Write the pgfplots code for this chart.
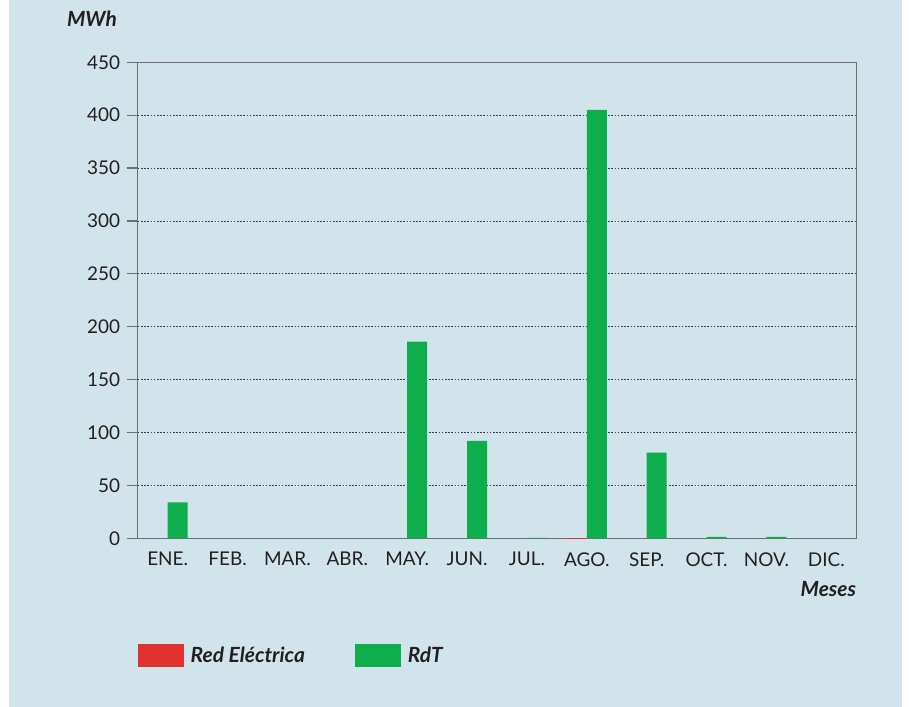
\documentclass[border=0pt]{standalone}
\usepackage{pgfplots}
\pgfplotsset{compat=1.18}
\usepackage{fontspec}
\setmainfont{Lato}
\definecolor{bgblue}{HTML}{D1E4EC}
\definecolor{rdtgreen}{HTML}{0DAE4B}
\definecolor{redel}{HTML}{DF312D}
\definecolor{axgray}{HTML}{6D6E71}
\definecolor{txt}{HTML}{231F20}
\begin{document}
\begin{tikzpicture}[x=1bp,y=1bp]
\useasboundingbox (-137.7bp,-168.7bp) rectangle (771.3bp,538.3bp);
\fill[bgblue] (-128.7bp,-168.7bp) rectangle (764.3bp,538.3bp);
\begin{axis}[
  at={(0,0)}, anchor=south west,
  scale only axis, width=718.6bp, height=476bp,
  ybar=0pt, bar width=20bp,
  xmin=-0.5, xmax=11.5, ymin=0, ymax=450,
  xtick={0,...,11},
  xticklabels={ENE.,FEB.,MAR.,ABR.,MAY.,JUN.,JUL.,AGO.,SEP.,OCT.,NOV.,DIC.},
  minor xtick={-0.5,0.5,...,11.5},
  ytick={0,50,...,450},
  tick align=outside, xtick pos=bottom, ytick pos=left,
  major tick length=11bp, minor tick length=7bp,
  xtick style={draw=none},
  minor x tick style={axgray, line width=1.2bp},
  ytick style={axgray, line width=1.2bp},
  axis line style={axgray, line width=1.3bp},
  ymajorgrids,
  grid style={txt!85!bgblue, line width=0.9bp, dash pattern=on 1.6bp off 1.6bp},
  /pgf/number format/assume math mode=true,
  ticklabel style={font=\fontsize{19}{22}\selectfont, text=txt},
  yticklabel style={xshift=-3bp},
  xticklabel style={yshift=0.5bp},
  xlabel={\bfseries\itshape Meses},
  xlabel style={at={(axis description cs:1,-0.1065)}, anchor=east, font=\fontsize{21}{24}\selectfont, text=txt, inner sep=0pt},
  ylabel={\bfseries\itshape MWh},
  ylabel style={rotate=-90, at={(axis description cs:-0.0636,1.092)}, anchor=center, font=\fontsize{21}{24}\selectfont, text=txt, inner sep=0pt},
  legend columns=2,
  legend style={at={(axis description cs:0,-0.2458)}, anchor=west, draw=none, fill=none,
    inner sep=0pt, outer sep=0pt,
    font=\fontsize{21}{24}\selectfont\bfseries\itshape, text=txt,
    nodes={inner sep=0pt},
    /tikz/every odd column/.append style={column sep=7bp},
    /tikz/every even column/.append style={column sep=50bp}},
  legend image code/.code={\fill[#1, draw=none] (0bp,-11.3bp) rectangle (46bp,11.3bp);},
  unbounded coords=discard,
  y filter/.expression={y==0 ? nan : y},
]
\addplot[fill=redel, draw=none] coordinates {
 (0,0) (1,0) (2,0) (3,0) (4,0) (5,0) (6,0) (7,0.3) (8,0) (9,0) (10,0) (11,0)};
\addlegendentry{Red Eléctrica}
\addplot[fill=rdtgreen, draw=none] coordinates {
 (0,34) (1,0) (2,0) (3,0) (4,186) (5,92) (6,0.3) (7,405) (8,81) (9,1.3) (10,1.3) (11,0)};
\addlegendentry{RdT}
\end{axis}
\end{tikzpicture}
\end{document}
